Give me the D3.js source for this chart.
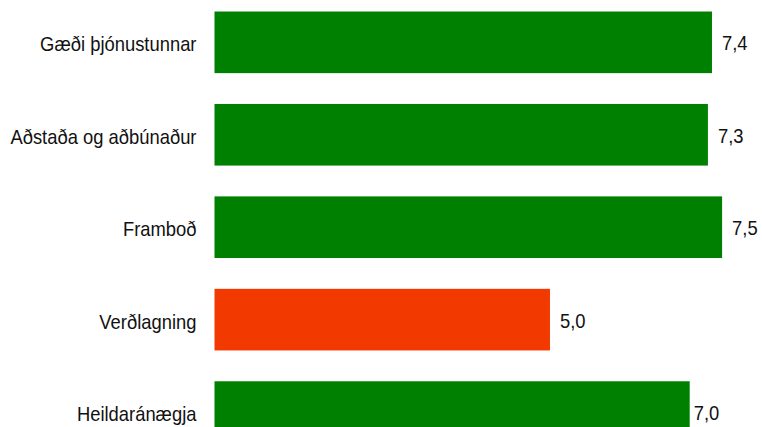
<!DOCTYPE html>
<html>
<head>
<meta charset="utf-8">
<script src="https://cdn.jsdelivr.net/npm/d3@7"></script>
<style>
  body { margin: 0; background: #fff; }
  text { font-family: "Liberation Sans", Arial, sans-serif; fill: #111; }
</style>
</head>
<body>
<div id="my_dataviz"></div>
<script>
// categories, top to bottom
var categories = ["Gæði þjónustunnar", "Aðstaða og aðbúnaður", "Framboð", "Verðlagning", "Heildaránægja"];
// scores (labels show one decimal)
var scores = [7.37, 7.31, 7.52, 4.97, 7.04];
var barColors = ["#008000", "#008000", "#008000", "#f23a00", "#008000"];

var data = categories.map(function(c, i) {
    return {name: c, value: scores[i], color: barColors[i]};
});

var width = 762, height = 427;
var squeeze = 0.92; // the original font is a bit narrow

var svg = d3.select("#my_dataviz")
    .append("svg")
        .attr("width", width)
        .attr("height", height);

// x scale: 0 sits at the bars' left edge
var x = d3.scaleLinear()
    .domain([0, 8])
    .range([214.5, 214.5 + 8 * 67.5]);

var y = d3.scaleBand()
    .domain(categories)
    .range([-19.3, 473.7])
    .paddingInner(1 / 3)
    .paddingOuter(1 / 3);

// bars
svg.selectAll("rect.bar")
    .data(data)
    .enter()
    .append("rect")
    .attr("class", "bar")
    .attr("x", x(0))
    .attr("y", function(d) { return y(d.name); })
    .attr("width", function(d) { return x(d.value) - x(0); })
    .attr("height", y.bandwidth())
    .attr("fill", function(d) { return d.color; });

// category labels
svg.selectAll("text.cat")
    .data(data)
    .enter()
    .append("text")
    .attr("class", "cat")
    .attr("transform", function(d) {
        return "translate(" + (x(0) - 18) + "," + (y(d.name) + y.bandwidth() / 2 + 9) + ") scale(" + squeeze + ",1)";
    })
    .attr("text-anchor", "end")
    .style("font-size", "20px")
    .text(function(d) { return d.name; });

// value labels
var fmt = function(v) { return v.toFixed(1).replace(".", ","); };
svg.selectAll("text.val")
    .data(data)
    .enter()
    .append("text")
    .attr("class", "val")
    .attr("transform", function(d, i) {
        var tx = x(d.value) + (i == data.length - 1 ? 4 : 10);
        return "translate(" + tx + "," + (y(d.name) + y.bandwidth() / 2 + 8) + ") scale(" + squeeze + ",1)";
    })
    .style("font-size", "20px")
    .text(function(d) { return fmt(d.value); });
</script>
</body>
</html>
